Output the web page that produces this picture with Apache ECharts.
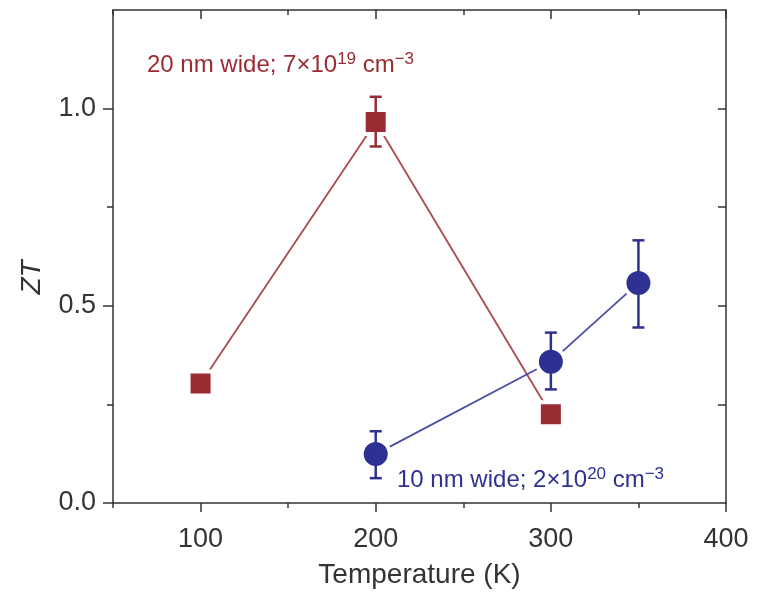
<!DOCTYPE html>
<html>
<head>
<meta charset="utf-8">
<script src="https://cdn.jsdelivr.net/npm/echarts@6/dist/echarts.min.js"></script>
<style>
  html, body { margin: 0; padding: 0; background: #fff; }
  #main { width: 762px; height: 592px; }
</style>
</head>
<body>
<div id="main"></div>
<script>
// 20 nm wide nanowire (squares)
var redTemp = [100, 200, 300];
var redZT = [0.303, 0.966, 0.225];
var redErrLow = [null, 0.904, null];
var redErrHigh = [null, 1.03, null];

// 10 nm wide nanowire (circles)
var blueTemp = [200, 300, 350];
var blueZT = [0.124, 0.358, 0.558];
var blueErrLow = [0.063, 0.288, 0.445];
var blueErrHigh = [0.182, 0.432, 0.666];

var xMin = 50, xMax = 400, xMinorStep = 50, xMajorStart = 100, xMajorStep = 100;
var yMajorTicks = [0, 0.5, 1.0];
var yMinorTicks = [0.25, 0.75];
var yRightTicks = [0.25, 0.5, 0.75, 1.0];

var redLabel = ['20 nm wide; 7×10', '19', ' cm', '−3'];
var blueLabel = ['10 nm wide; 2×10', '20', ' cm', '−3'];

var FONT = "'Liberation Sans', Arial, Helvetica, sans-serif";
var AXIS = '#333';
var RED = '#9b2b33';
var RED_LINE = '#a94a50';
var BLUE = '#2e3192';
var BLUE_LINE = '#4b4fa3';

function pairs(xs, ys) {
    return xs.map(function (x, i) { return [x, ys[i]]; });
}
function errData(xs, lo, hi) {
    var out = [];
    xs.forEach(function (x, i) {
        if (lo[i] != null) out.push([x, lo[i], hi[i]]);
    });
    return out;
}
function errSeries(data, color) {
    return {
        type: 'custom',
        xAxisIndex: 0,
        yAxisIndex: 0,
        z: 5,
        data: data,
        renderItem: function (params, api) {
            var top = api.coord([api.value(0), api.value(2)]);
            var bot = api.coord([api.value(0), api.value(1)]);
            var w = 6;
            var st = { stroke: color, lineWidth: 2.5 };
            return {
                type: 'group',
                children: [
                    { type: 'line', shape: { x1: top[0], y1: top[1], x2: bot[0], y2: bot[1] }, style: st },
                    { type: 'line', shape: { x1: top[0] - w, y1: top[1], x2: top[0] + w, y2: top[1] }, style: st },
                    { type: 'line', shape: { x1: bot[0] - w, y1: bot[1], x2: bot[0] + w, y2: bot[1] }, style: st }
                ]
            };
        }
    };
}
function supText(parts) {
    return '{a|' + parts[0] + '}{s|' + parts[1] + '}{a|' + parts[2] + '}{s|' + parts[3] + '}';
}
function richStyle(color) {
    return {
        a: { fontSize: 24, fontFamily: FONT, fill: color, color: color },
        s: { fontSize: 17, fontFamily: FONT, fill: color, color: color, padding: [0, 0, 12, 0] }
    };
}
function tickSt(len, inside, vals) {
    var t = { show: true, inside: inside, length: len, lineStyle: { color: AXIS, width: 1.5 } };
    if (vals) t.customValues = vals.slice();
    return t;
}

var gridLeft = 113, gridRight = 36, gridTop = 10, gridBottom = 89;
var plotW = 762 - gridLeft - gridRight;
// second grid starts at the first major tick so its ticks count from there
var majorLeft = gridLeft + plotW * (xMajorStart - xMin) / (xMax - xMin);

var noLine = { show: false, onZero: false };
var lineSt = { show: true, onZero: false, lineStyle: { color: AXIS, width: 1.5 } };

var myChart = echarts.init(document.getElementById('main'));

var option = {
    animation: false,
    backgroundColor: '#fff',
    grid: [
        { left: gridLeft, right: gridRight, top: gridTop, bottom: gridBottom, outerBoundsMode: 'none', containLabel: false },
        { left: majorLeft, right: gridRight, top: gridTop, bottom: gridBottom, outerBoundsMode: 'none', containLabel: false }
    ],
    xAxis: [
        {
            type: 'value', gridIndex: 0, position: 'bottom',
            min: xMin, max: xMax, interval: xMinorStep,
            splitLine: { show: false },
            axisLine: lineSt,
            axisTick: tickSt(5, false),
            axisLabel: {
                fontSize: 27, fontFamily: FONT, color: AXIS, margin: 23,
                formatter: function (v) { return v % xMajorStep === 0 ? String(v) : ''; }
            },
            name: 'Temperature (K)',
            nameLocation: 'middle',
            nameGap: 58,
            nameTextStyle: { fontSize: 28, fontFamily: FONT, color: AXIS }
        },
        {
            type: 'value', gridIndex: 0, position: 'top',
            min: xMin, max: xMax, interval: xMinorStep,
            splitLine: { show: false },
            axisLine: lineSt,
            axisTick: tickSt(5, true),
            axisLabel: { show: false }
        },
        {
            type: 'value', gridIndex: 1, position: 'bottom',
            min: xMajorStart, max: xMax, interval: xMajorStep,
            splitLine: { show: false },
            axisLine: noLine,
            axisTick: tickSt(9, false),
            axisLabel: { show: false }
        },
        {
            type: 'value', gridIndex: 1, position: 'top',
            min: xMajorStart, max: xMax, interval: xMajorStep,
            splitLine: { show: false },
            axisLine: noLine,
            axisTick: tickSt(9, true),
            axisLabel: { show: false }
        }
    ],
    yAxis: [
        {
            type: 'value', gridIndex: 0, position: 'left',
            min: 0, max: 1.25,
            splitLine: { show: false },
            axisLine: lineSt,
            axisTick: tickSt(10, false, yMajorTicks),
            axisLabel: {
                customValues: yMajorTicks, fontSize: 27, fontFamily: FONT, color: AXIS, margin: 17,
                formatter: function (v) { return v.toFixed(1); }
            },
            name: 'ZT',
            nameLocation: 'middle',
            nameGap: 67,
            nameTextStyle: { fontSize: 28, fontFamily: FONT, fontStyle: 'italic', color: AXIS, padding: [0, 42, 0, 0] }
        },
        {
            type: 'value', gridIndex: 0, position: 'right',
            min: 0, max: 1.25,
            splitLine: { show: false },
            axisLine: lineSt,
            axisTick: tickSt(8, true, yRightTicks),
            axisLabel: { show: false }
        },
        {
            type: 'value', gridIndex: 1, position: 'left',
            min: 0, max: 1.25,
            offset: majorLeft - gridLeft,
            splitLine: { show: false },
            axisLine: noLine,
            axisTick: tickSt(6, false, yMinorTicks),
            axisLabel: { show: false }
        }
    ],
    graphic: [
        {
            type: 'text', left: 147, top: 51, z: 10,
            style: { text: supText(redLabel), rich: richStyle(RED), fill: RED, font: '24px ' + FONT }
        },
        {
            type: 'text', left: 397, top: 466, z: 10,
            style: { text: supText(blueLabel), rich: richStyle(BLUE), fill: BLUE, font: '24px ' + FONT }
        }
    ],
    series: [
        {
            name: '20 nm',
            type: 'line',
            xAxisIndex: 0,
            yAxisIndex: 0,
            data: pairs(redTemp, redZT),
            symbol: 'rect',
            symbolSize: 24,
            z: 3,
            lineStyle: { color: RED_LINE, width: 1.8 },
            itemStyle: { color: RED, borderColor: '#fff', borderWidth: 4 }
        },
        {
            name: '10 nm',
            type: 'line',
            xAxisIndex: 0,
            yAxisIndex: 0,
            data: pairs(blueTemp, blueZT),
            symbol: 'circle',
            symbolSize: 28,
            z: 3,
            lineStyle: { color: BLUE_LINE, width: 1.8 },
            itemStyle: { color: BLUE, borderColor: '#fff', borderWidth: 4 }
        },
        errSeries(errData(redTemp, redErrLow, redErrHigh), RED),
        errSeries(errData(blueTemp, blueErrLow, blueErrHigh), BLUE)
    ]
};

myChart.setOption(option);
</script>
</body>
</html>
